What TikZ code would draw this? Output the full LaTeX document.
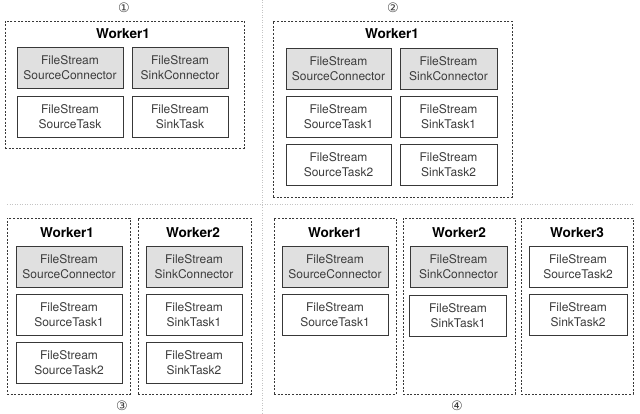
\documentclass[tikz,border=0pt]{standalone}
\usepackage{fontspec}
\setmainfont{TeX Gyre Heros}
\newfontfamily\symfont{DejaVu Sans}
\definecolor{txt}{HTML}{3C3C3C}
\definecolor{edge}{HTML}{383838}
\definecolor{cfill}{HTML}{E0E0E0}
\definecolor{sep}{HTML}{C4C4C4}
\tikzset{
  inbox/.style={draw=edge, line width=0.9pt, minimum height=41pt, inner sep=0pt,
    align=center, text=txt, font=\fontsize{12}{15}\selectfont},
  conbox/.style={inbox, fill=cfill},
  taskbox/.style={inbox, fill=white},
  workerbox/.style={draw=edge, line width=0.7pt, dash pattern=on 2pt off 1.6pt, inner sep=0pt},
  wtitle/.style={font=\fontsize{13.6}{16}\selectfont\bfseries, text=black, inner sep=0pt},
  circnum/.style={font=\symfont\fontsize{13}{15}\selectfont, text=txt, inner sep=0pt},
  septline/.style={draw=sep, line width=0.8pt, dash pattern=on 1pt off 1.5pt}
}
\begin{document}
\begin{tikzpicture}[x=1pt,y=-1pt]
\useasboundingbox[fill=white] (0,0) rectangle (640,414);
% separators
\coordinate (vt) at (262,0);
\coordinate (vb) at (262,414);
\coordinate (hl) at (7,204);
\coordinate (hr) at (633,204);
\draw[septline] (vt) -- (vb);
\draw[septline] (hl) -- (hr);

% ---------- panel 1 ----------
\node[circnum] (n1) at (124,7.5) {①};
\node[workerbox, minimum width=239pt, minimum height=127pt] (p1w1) at (124.5,84.5) {};
\node[wtitle] (p1t1) at (123,34) {Worker1};
\node[conbox, minimum width=106pt] (p1sc) at (70,67.5) {FileStream\\SourceConnector};
\node[conbox, minimum width=96pt] (p1kc) at (180,67.5) {FileStream\\SinkConnector};
\node[taskbox, minimum width=106pt] (p1st) at (70,116.5) {FileStream\\SourceTask};
\node[taskbox, minimum width=96pt] (p1kt) at (180,116.5) {FileStream\\SinkTask};

% ---------- panel 2 ----------
\node[circnum] (n2) at (393,7.5) {②};
\node[workerbox, minimum width=239pt, minimum height=176pt] (p2w1) at (392.5,109) {};
\node[wtitle] (p2t1) at (392,34) {Worker1};
\node[conbox, minimum width=105pt] (p2sc) at (338.5,68.5) {FileStream\\SourceConnector};
\node[conbox, minimum width=97pt] (p2kc) at (448.5,68.5) {FileStream\\SinkConnector};
\node[taskbox, minimum width=105pt] (p2st1) at (338.5,116.5) {FileStream\\SourceTask1};
\node[taskbox, minimum width=97pt] (p2kt1) at (448.5,116.5) {FileStream\\SinkTask1};
\node[taskbox, minimum width=105pt] (p2st2) at (338.5,164.5) {FileStream\\SourceTask2};
\node[taskbox, minimum width=97pt] (p2kt2) at (448.5,164.5) {FileStream\\SinkTask2};

% ---------- panel 3 ----------
\node[circnum] (n3) at (122,406) {③};
\node[workerbox, minimum width=123pt, minimum height=176pt] (p3w1) at (68.5,306) {};
\node[workerbox, minimum width=113pt, minimum height=176pt] (p3w2) at (194.5,306) {};
\node[wtitle] (p3t1) at (67,233) {Worker1};
\node[wtitle] (p3t2) at (193,233) {Worker2};
\node[conbox, minimum width=106pt] (p3sc) at (69,266.5) {FileStream\\SourceConnector};
\node[taskbox, minimum width=106pt] (p3st1) at (69,315) {FileStream\\SourceTask1};
\node[taskbox, minimum width=106pt] (p3st2) at (69,363) {FileStream\\SourceTask2};
\node[conbox, minimum width=96pt] (p3kc) at (194,266.5) {FileStream\\SinkConnector};
\node[taskbox, minimum width=96pt] (p3kt1) at (194,315) {FileStream\\SinkTask1};
\node[taskbox, minimum width=96pt] (p3kt2) at (194,363) {FileStream\\SinkTask2};

% ---------- panel 4 ----------
\node[circnum] (n4) at (457,406) {④};
\node[workerbox, minimum width=122pt, minimum height=176pt] (p4w1) at (335,306) {};
\node[workerbox, minimum width=112pt, minimum height=176pt] (p4w2) at (459,306) {};
\node[workerbox, minimum width=112pt, minimum height=176pt] (p4w3) at (577,306) {};
\node[wtitle] (p4t1) at (335,233) {Worker1};
\node[wtitle] (p4t2) at (459,233) {Worker2};
\node[wtitle] (p4t3) at (577,233) {Worker3};
\node[conbox, minimum width=106pt] (p4sc) at (335,266.5) {FileStream\\SourceConnector};
\node[taskbox, minimum width=106pt] (p4st1) at (335,315) {FileStream\\SourceTask1};
\node[conbox, minimum width=97pt] (p4kc) at (458.5,266.5) {FileStream\\SinkConnector};
\node[taskbox, minimum width=97pt] (p4kt1) at (458,315.5) {FileStream\\SinkTask1};
\node[taskbox, minimum width=98pt] (p4st2) at (578,266.5) {FileStream\\SourceTask2};
\node[taskbox, minimum width=98pt] (p4kt2) at (578,315) {FileStream\\SinkTask2};
\end{tikzpicture}
\end{document}
